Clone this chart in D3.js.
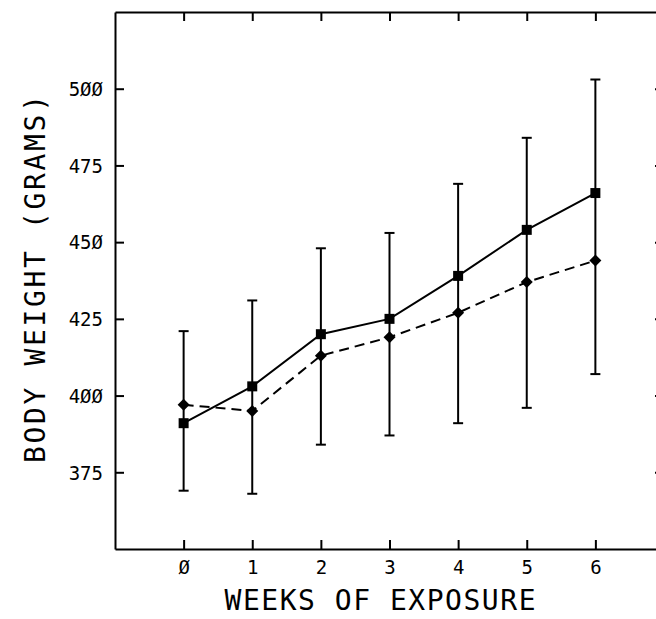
<!DOCTYPE html>
<html>
<head>
<meta charset="utf-8">
<script src="https://cdn.jsdelivr.net/npm/d3@7"></script>
<style>
  body { margin: 0; background: #fff; }
  svg { display: block; }
  .tick text { font-family: "DejaVu Sans Mono", monospace; font-size: 19px; fill: #000; }
  .axis-label { font-family: "DejaVu Sans Mono", monospace; font-size: 28px; fill: #000; }
</style>
</head>
<body>
<svg width="656" height="619"></svg>
<script>
// weeks of exposure and mean body weights (grams)
const weeks = [0, 1, 2, 3, 4, 5, 6];
const squareMean = [391, 403, 420, 425, 439, 454, 466];
const diamondMean = [397, 395, 413, 419, 427, 437, 444];
// error bar ends at each week
const barTop = [421, 431, 448, 453, 469, 484, 503];
const barBottom = [369, 368, 384, 387, 391, 396, 407];

const xTicks = [0, 1, 2, 3, 4, 5, 6];
const yTicks = [375, 400, 425, 450, 475, 500];
const xLabel = 'WEEKS OF EXPOSURE';
const yLabel = 'BODY WEIGHT (GRAMS)';

const svg = d3.select('svg');
const plot = { left: 115, right: 664, top: 12, bottom: 549 };

const xScale = d3.scaleLinear().domain([-1, 7]).range([plot.left, plot.right]);
const yScale = d3.scaleLinear().domain([350, 525]).range([plot.bottom, plot.top]);

const fmt = d => String(d).replace(/0/g, '\u00D8');

// frame with inward ticks on all four sides
const xAxisB = d3.axisBottom(xScale).tickValues(xTicks).tickFormat(fmt)
  .tickSizeInner(-9).tickSizeOuter(0).tickPadding(22);
const xAxisT = d3.axisTop(xScale).tickValues(xTicks).tickFormat('')
  .tickSizeInner(-9).tickSizeOuter(0);
const yAxisL = d3.axisLeft(yScale).tickValues(yTicks).tickFormat(fmt)
  .tickSizeInner(-9).tickSizeOuter(0).tickPadding(12);
const yAxisR = d3.axisRight(yScale).tickValues(yTicks).tickFormat('')
  .tickSizeInner(-9).tickSizeOuter(0);

const gB = svg.append('g').attr('transform', `translate(0,${plot.bottom})`).call(xAxisB);
const gT = svg.append('g').attr('transform', `translate(0,${plot.top})`).call(xAxisT);
const gL = svg.append('g').attr('transform', `translate(${plot.left},0)`).call(yAxisL);
const gR = svg.append('g').attr('transform', `translate(${plot.right},0)`).call(yAxisR);

[gB, gT, gL, gR].forEach(g => {
  g.select('.domain').attr('stroke', '#000').attr('stroke-width', 2);
  g.selectAll('.tick line').attr('stroke', '#000').attr('stroke-width', 2);
});
gB.selectAll('.tick text').attr('dy', '0.15em');
gL.selectAll('.tick text').attr('dy', '0.36em');

svg.append('text')
  .attr('class', 'axis-label')
  .attr('x', 380)
  .attr('y', 610)
  .attr('text-anchor', 'middle')
  .attr('textLength', 311)
  .attr('lengthAdjust', 'spacing')
  .text(xLabel);

svg.append('text')
  .attr('class', 'axis-label')
  .attr('transform', `translate(45,${(95 + 463) / 2}) rotate(-90)`)
  .attr('text-anchor', 'middle')
  .attr('textLength', 368)
  .attr('lengthAdjust', 'spacing')
  .text(yLabel);

// error bars
const bars = svg.append('g').attr('stroke', '#000').attr('stroke-width', 2);
weeks.forEach((w, i) => {
  const x = xScale(w);
  bars.append('line')
    .attr('x1', x).attr('x2', x)
    .attr('y1', yScale(barTop[i])).attr('y2', yScale(barBottom[i]));
  [barTop[i], barBottom[i]].forEach(v => {
    bars.append('line')
      .attr('x1', x - 5).attr('x2', x + 5)
      .attr('y1', yScale(v)).attr('y2', yScale(v));
  });
});

const line = d3.line().x(d => xScale(d[0])).y(d => yScale(d[1]));

svg.append('path')
  .datum(weeks.map((w, i) => [w, squareMean[i]]))
  .attr('d', line)
  .attr('fill', 'none')
  .attr('stroke', '#000')
  .attr('stroke-width', 2);

svg.append('path')
  .datum(weeks.map((w, i) => [w, diamondMean[i]]))
  .attr('d', line)
  .attr('fill', 'none')
  .attr('stroke', '#000')
  .attr('stroke-width', 2)
  .attr('stroke-dasharray', '10,6');

svg.append('g').selectAll('path')
  .data(weeks.map((w, i) => [w, squareMean[i]]))
  .join('path')
  .attr('d', d3.symbol(d3.symbolSquare, 100))
  .attr('transform', d => `translate(${xScale(d[0])},${yScale(d[1])})`)
  .attr('fill', '#000');

svg.append('g').selectAll('path')
  .data(weeks.map((w, i) => [w, diamondMean[i]]))
  .join('path')
  .attr('d', d3.symbol(d3.symbolSquare, 72))
  .attr('transform', d => `translate(${xScale(d[0])},${yScale(d[1])}) rotate(45)`)
  .attr('fill', '#000');
</script>
</body>
</html>
